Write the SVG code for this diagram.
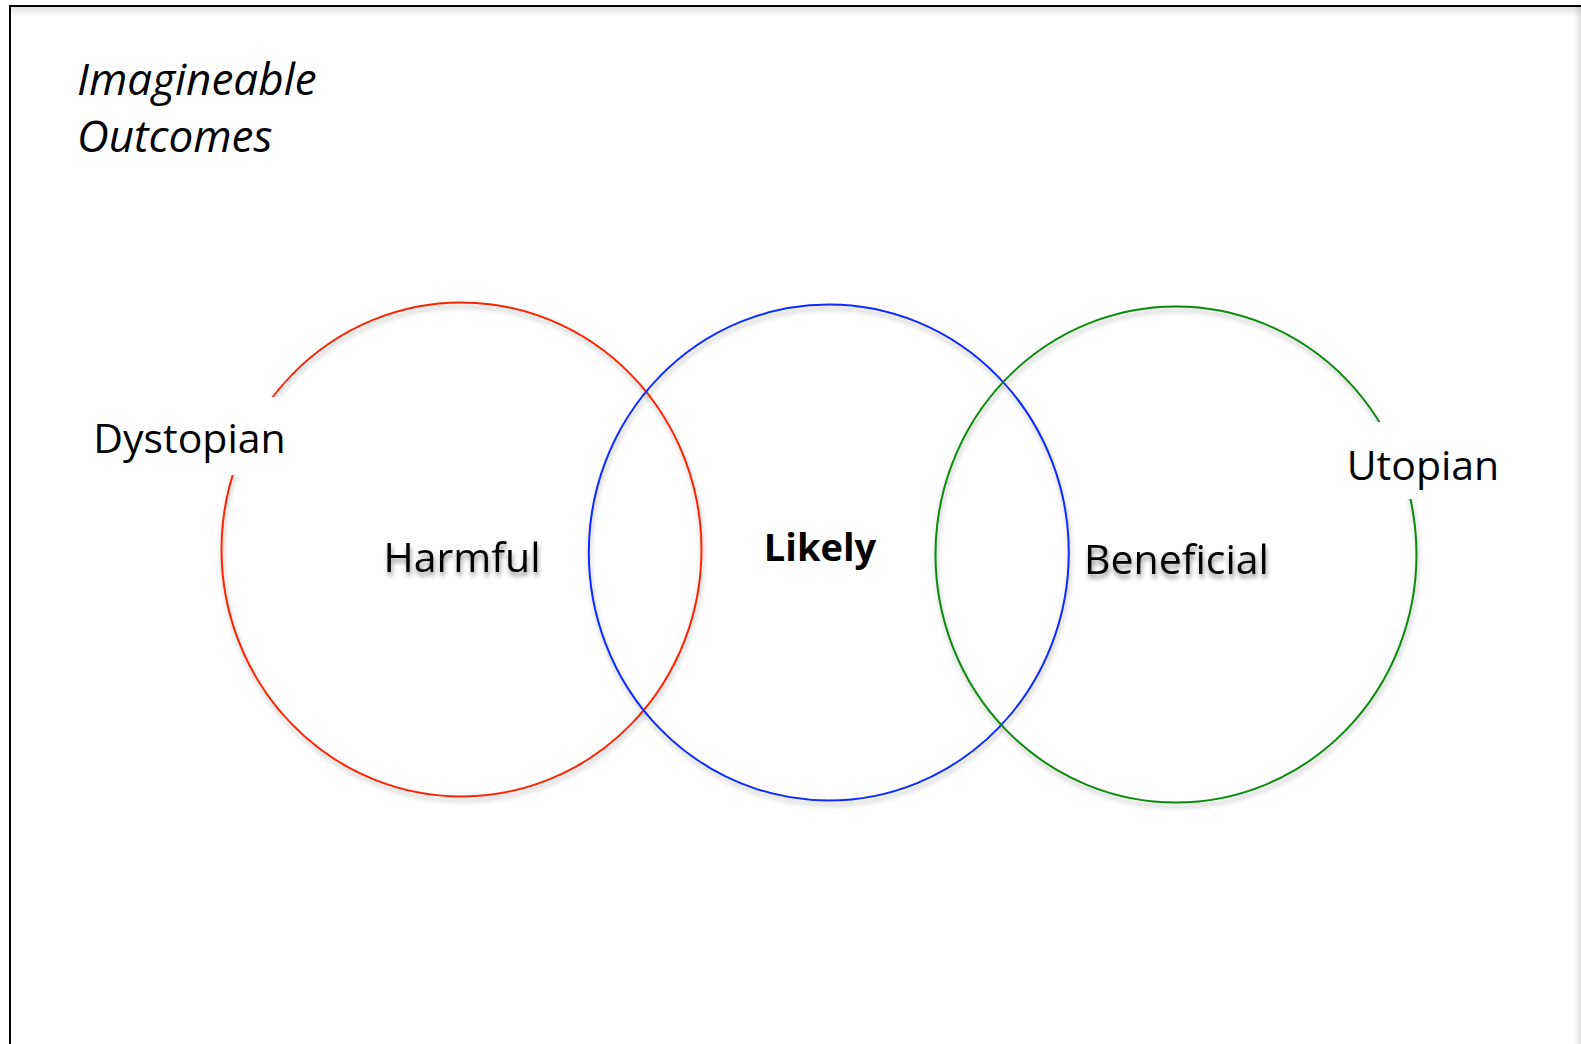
<svg xmlns="http://www.w3.org/2000/svg" width="1581" height="1044" viewBox="0 0 1581 1044">
  <defs>
    <filter id="shadow" x="-20%" y="-20%" width="140%" height="140%">
      <feGaussianBlur in="SourceAlpha" stdDeviation="2.5"/>
      <feOffset dx="1" dy="4" result="b"/>
      <feComponentTransfer><feFuncA type="linear" slope="0.3"/></feComponentTransfer>
      <feMerge><feMergeNode/><feMergeNode in="SourceGraphic"/></feMerge>
    </filter>
    <filter id="tshadow" x="-20%" y="-30%" width="140%" height="180%">
      <feGaussianBlur in="SourceAlpha" stdDeviation="2.5"/>
      <feOffset dx="1" dy="4" result="b"/>
      <feComponentTransfer><feFuncA type="linear" slope="0.45"/></feComponentTransfer>
      <feMerge><feMergeNode/><feMergeNode in="SourceGraphic"/></feMerge>
    </filter>
    <linearGradient id="topShade" x1="0" y1="0" x2="0" y2="1">
      <stop offset="0" stop-color="#000" stop-opacity="0.12"/>
      <stop offset="1" stop-color="#000" stop-opacity="0"/>
    </linearGradient>
    <linearGradient id="rightShade" x1="1" y1="0" x2="0" y2="0">
      <stop offset="0" stop-color="#000" stop-opacity="0.12"/>
      <stop offset="1" stop-color="#000" stop-opacity="0"/>
    </linearGradient>
  </defs>
  <style>
    .ring { fill: none; stroke-width: 2; }
    .lbl { font-family: "Open Sans", "Noto Sans", "Liberation Sans", sans-serif; font-size: 41px; fill: #000; }
    .mid { text-anchor: middle; }
    .ttl { font-style: italic; font-size: 44px; }
    .bold { font-weight: bold; font-size: 38px; }
  </style>
  <rect x="0" y="0" width="1581" height="1044" fill="#fff"/>
  <g id="frame">
    <rect x="11" y="7" width="1570" height="10" fill="url(#topShade)"/>
    <rect x="1574" y="7" width="7" height="1037" fill="url(#rightShade)"/>
    <rect x="10" y="6" width="1600" height="1100" fill="none" stroke="#000" stroke-width="2"/>
  </g>
  <g id="title">
    <text class="lbl ttl" x="77" y="95">Imagineable</text>
    <text class="lbl ttl" x="77" y="152">Outcomes</text>
  </g>
  <g id="harmful" filter="url(#shadow)">
    <ellipse class="ring" cx="461.5" cy="549.5" rx="240" ry="247" stroke="#ff2400"/>
  </g>
  <g id="likely" filter="url(#shadow)">
    <ellipse class="ring" cx="828.8" cy="552.5" rx="240" ry="248" stroke="#0a2cff"/>
  </g>
  <g id="beneficial" filter="url(#shadow)">
    <ellipse class="ring" cx="1176" cy="554.5" rx="240.5" ry="248" stroke="#0a8a0a"/>
  </g>
  <g id="dystopian">
    <rect x="84" y="397" width="210" height="78" fill="#fff"/>
    <text class="lbl mid" x="189.5" y="453">Dystopian</text>
  </g>
  <g id="utopian">
    <rect x="1336" y="422" width="175" height="77" fill="#fff"/>
    <text class="lbl mid" x="1423" y="480">Utopian</text>
  </g>
  <g id="labels">
    <text class="lbl mid" x="462" y="572" filter="url(#tshadow)">Harmful</text>
    <text class="lbl mid bold" x="820" y="561">Likely</text>
    <text class="lbl mid" x="1176.5" y="574" filter="url(#tshadow)">Beneficial</text>
  </g>
</svg>
